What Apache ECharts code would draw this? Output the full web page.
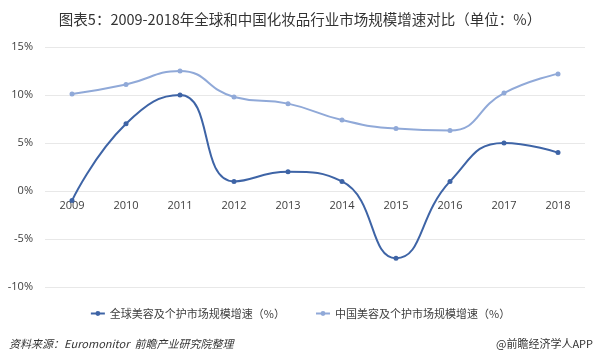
<!DOCTYPE html>
<html><head><meta charset="utf-8">
<script src="https://cdn.jsdelivr.net/npm/echarts@6/dist/echarts.min.js"></script>
<style>html,body{margin:0;padding:0;background:#fff}#c{width:600px;height:357px}</style>
</head><body><div id="c"></div>
<script>
var years = ['2009','2010','2011','2012','2013','2014','2015','2016','2017','2018'];
var globalGrowth = [-1, 7, 10, 1, 2, 1, -7, 1, 5, 4];
var chinaGrowth = [10.1, 11.1, 12.5, 9.8, 9.1, 7.4, 6.5, 6.3, 10.2, 12.2];
var seriesNames = ['全球美容及个护市场规模增速（%）', '中国美容及个护市场规模增速（%）'];
var yTicks = {min: -10, max: 15, interval: 5};

var chart = echarts.init(document.getElementById('c'));
var font = '"Noto Sans CJK SC", "Noto Sans", sans-serif';
chart.setOption({
  animation: false,
  backgroundColor: '#fff',
  title: [{
    text: '图表5：2009-2018年全球和中国化妆品行业市场规模增速对比（单位：%）',
    left: 'center', top: 7,
    textStyle: {fontSize: 14.5, fontWeight: 'normal', color: '#333', fontFamily: font}
  }, {
    text: '资料来源：Euromonitor  前瞻产业研究院整理',
    left: 4, top: 333,
    textStyle: {fontSize: 11, fontWeight: 'normal', fontStyle: 'italic', color: '#333', fontFamily: font}
  }, {
    text: '@前瞻经济学人APP',
    right: 2, top: 333,
    textStyle: {fontSize: 11, fontWeight: 'normal', color: '#333', fontFamily: font}
  }],
  legend: {
    top: 303, left: 'center', itemGap: 30, itemWidth: 14, itemHeight: 6,
    textStyle: {fontSize: 11, color: '#404040', fontFamily: font},
    data: seriesNames
  },
  grid: {left: 45, right: 15, top: 47, bottom: 70},
  xAxis: {
    type: 'category', data: years, boundaryGap: true,
    position: 'bottom', offset: -96,
    axisLine: {show: false, onZero: false},
    axisTick: {show: false},
    axisLabel: {fontSize: 11, color: '#404040', margin: 9, fontFamily: 'Open Sans, sans-serif'}
  },
  yAxis: {
    type: 'value', min: yTicks.min, max: yTicks.max, interval: yTicks.interval,
    axisLine: {show: false}, axisTick: {show: false},
    splitLine: {lineStyle: {color: '#e8e8e8'}},
    axisLabel: {formatter: '{value}%', fontSize: 11, color: '#404040', margin: 12, fontFamily: 'Open Sans, sans-serif'}
  },
  series: [{
    name: seriesNames[0], type: 'line', data: globalGrowth, smooth: 0.5,
    symbol: 'circle', symbolSize: 5,
    lineStyle: {color: '#3e64a6', width: 2}, itemStyle: {color: '#3e64a6'}
  }, {
    name: seriesNames[1], type: 'line', data: chinaGrowth, smooth: 0.5,
    symbol: 'circle', symbolSize: 5,
    lineStyle: {color: '#90a9d8', width: 2}, itemStyle: {color: '#90a9d8'}
  }]
});
</script></body></html>
